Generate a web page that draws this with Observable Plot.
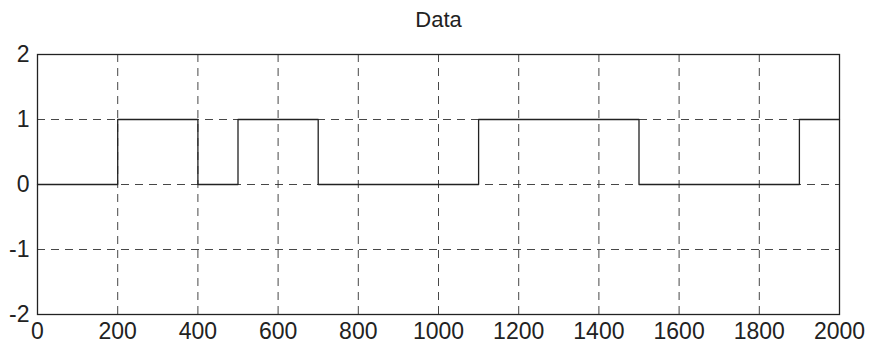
<!DOCTYPE html>
<html><head><meta charset="utf-8">
<script src="https://cdn.jsdelivr.net/npm/d3@7"></script>
<script src="https://cdn.jsdelivr.net/npm/@observablehq/plot@0.6"></script>
<style>body{margin:0;background:#fff;} svg{display:block;}</style>
</head><body><div id="chart"></div>
<script>
const title = "Data";
const stepX = [0, 200, 400, 500, 700, 1100, 1500, 1900, 2000];
const stepY = [0, 1, 0, 1, 0, 1, 0, 1, 1];
const xTicks = [0, 200, 400, 600, 800, 1000, 1200, 1400, 1600, 1800, 2000];
const yTicks = [-2, -1, 0, 1, 2];

const data = stepX.map((x, i) => ({x, y: stepY[i]}));
const fmt = d => String(d);

const chart = Plot.plot({
  width: 870, height: 349,
  marginLeft: 37, marginRight: 31, marginTop: 54, marginBottom: 35,
  style: {fontFamily: "'Liberation Sans', Arial, sans-serif", fontSize: "23px", color: "#222", background: "#fff"},
  x: {domain: [0, 2000], label: null},
  y: {domain: [-2, 2], label: null},
  marks: [
    Plot.gridX(xTicks.slice(1, -1), {stroke: "#333", strokeOpacity: 0.9, strokeDasharray: "8,6"}),
    Plot.gridY(yTicks.slice(1, -1), {stroke: "#333", strokeOpacity: 0.9, strokeDasharray: "8,6"}),
    Plot.frame({stroke: "#222", strokeWidth: 1.3}),
    Plot.line(data, {x: "x", y: "y", curve: "step-after", stroke: "#222", strokeWidth: 1.3}),
    Plot.text([title], {frameAnchor: "top", dy: -43, text: d => d, fontSize: 22, fill: "#222"}),
    Plot.axisX({ticks: xTicks, tickFormat: fmt, tickSize: 0, tickPadding: 8, fontSize: 23, label: null}),
    Plot.axisY({ticks: yTicks, tickFormat: fmt, tickSize: 0, tickPadding: 8, fontSize: 23, label: null})
  ]
});
document.getElementById("chart").appendChild(chart);
</script>
</body></html>
